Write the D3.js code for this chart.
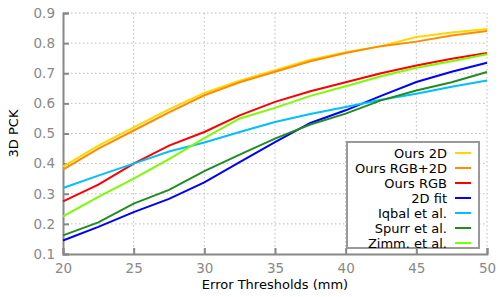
<!DOCTYPE html>
<html>
<head>
<meta charset="utf-8">
<script src="https://cdn.jsdelivr.net/npm/d3@7"></script>
<style>
  body { margin: 0; background: #fff; }
  text { font-family: "DejaVu Sans", sans-serif; }
</style>
</head>
<body>
<div id="container"></div>
<script>
// thresholds (mm)
var thresholds = [20, 22.5, 25, 27.5, 30, 32.5, 35, 37.5, 40, 42.5, 45, 47.5, 50];

// 3D PCK per method
var ours2D    = [0.39, 0.46, 0.52, 0.58, 0.635, 0.675, 0.71, 0.745, 0.77, 0.79, 0.82, 0.835, 0.847];
var oursRGB2D = [0.38, 0.45, 0.51, 0.57, 0.627, 0.67, 0.705, 0.74, 0.767, 0.79, 0.805, 0.825, 0.84];
var oursRGB   = [0.275, 0.33, 0.40, 0.46, 0.505, 0.56, 0.605, 0.64, 0.67, 0.70, 0.726, 0.748, 0.767];
var fit2D     = [0.145, 0.19, 0.239, 0.283, 0.338, 0.405, 0.471, 0.535, 0.577, 0.625, 0.671, 0.705, 0.735];
var iqbal     = [0.319, 0.36, 0.40, 0.44, 0.47, 0.505, 0.538, 0.565, 0.588, 0.612, 0.632, 0.655, 0.676];
var spurr     = [0.162, 0.205, 0.267, 0.313, 0.375, 0.43, 0.483, 0.53, 0.566, 0.61, 0.643, 0.67, 0.704];
var zimm      = [0.225, 0.29, 0.35, 0.415, 0.485, 0.55, 0.585, 0.625, 0.657, 0.69, 0.718, 0.74, 0.763];

var seriesNames  = ["Ours 2D", "Ours RGB+2D", "Ours RGB", "2D fit", "Iqbal et al.", "Spurr et al.", "Zimm. et al."];
var seriesValues = [ours2D, oursRGB2D, oursRGB, fit2D, iqbal, spurr, zimm];
var seriesColors = ["#ffd700", "#ff8c00", "#ff0000", "#0000ff", "#00bfff", "#228b22", "#7cfc00"];

var xTicks = [20, 25, 30, 35, 40, 45, 50];
var yTicks = [0.1, 0.2, 0.3, 0.4, 0.5, 0.6, 0.7, 0.8, 0.9];

var margin = {top: 13, right: 11, bottom: 43, left: 63};
var W = 498, H = 297;
var width = W - margin.left - margin.right;
var height = H - margin.top - margin.bottom;

var svg = d3.select("#container")
  .append("svg")
    .attr("width", W)
    .attr("height", H)
  .append("g")
    .attr("transform", "translate(" + margin.left + "," + margin.top + ")");

var x = d3.scaleLinear().domain([20, 50]).range([0, width]);
var y = d3.scaleLinear().domain([0.1, 0.9]).range([height, 0]);

// grid
svg.append("g").selectAll("line.gx")
  .data(xTicks.slice(1))
  .enter().append("line")
    .attr("x1", function(d) { return x(d); }).attr("x2", function(d) { return x(d); })
    .attr("y1", 0).attr("y2", height)
    .style("stroke", "#bbb").style("stroke-dasharray", "1.5,2.5");
svg.append("g").selectAll("line.gy")
  .data(yTicks.slice(1))
  .enter().append("line")
    .attr("x1", 0).attr("x2", width)
    .attr("y1", function(d) { return y(d); }).attr("y2", function(d) { return y(d); })
    .style("stroke", "#bbb").style("stroke-dasharray", "1.5,2.5");

// axes
var xAxis = svg.append("g")
  .attr("transform", "translate(0," + height + ")")
  .call(d3.axisBottom(x).tickValues(xTicks).tickSize(-6).tickPadding(9).tickFormat(d3.format("d")));
var yAxis = svg.append("g")
  .call(d3.axisLeft(y).tickValues(yTicks).tickSize(-6).tickPadding(8).tickFormat(d3.format(".1f")));

[xAxis, yAxis].forEach(function(a) {
  a.select(".domain").style("stroke", "#888").style("stroke-width", 2);
  a.selectAll(".tick line").style("stroke", "#888").style("stroke-width", 2);
  a.selectAll(".tick text").style("fill", "#888").style("font-size", "13.5px")
    .style("font-family", "DejaVu Sans, sans-serif");
});

// lines
var line = d3.line()
  .x(function(d) { return x(d[0]); })
  .y(function(d) { return y(d[1]); });

seriesValues.forEach(function(vals, i) {
  svg.append("path")
    .datum(d3.zip(thresholds, vals))
    .attr("d", line)
    .style("fill", "none")
    .style("stroke", seriesColors[i])
    .style("stroke-width", 2);
});

// axis labels
svg.append("text")
  .attr("x", width / 2).attr("y", height + 35)
  .attr("text-anchor", "middle")
  .style("font-size", "13px")
  .text("Error Thresholds (mm)");
svg.append("text")
  .attr("transform", "translate(-45," + (height / 2) + ") rotate(-90)")
  .attr("text-anchor", "middle")
  .style("font-size", "13px")
  .text("3D PCK");

// legend
var lg = svg.append("g").attr("transform", "translate(" + (347 - margin.left) + "," + (142 - margin.top) + ")");
lg.append("rect")
  .attr("x", 0).attr("y", 0).attr("width", 132).attr("height", 106)
  .style("fill", "#fff").style("stroke", "#999").style("stroke-width", 2);
seriesNames.forEach(function(n, i) {
  var yy = 11 + i * 15;
  lg.append("text")
    .attr("x", 100).attr("y", yy).attr("dy", "0.35em")
    .attr("text-anchor", "end")
    .style("font-size", "13px")
    .text(n);
  lg.append("line")
    .attr("x1", 108).attr("x2", 124).attr("y1", yy).attr("y2", yy)
    .style("stroke", seriesColors[i]).style("stroke-width", 2);
});
</script>
</body>
</html>
